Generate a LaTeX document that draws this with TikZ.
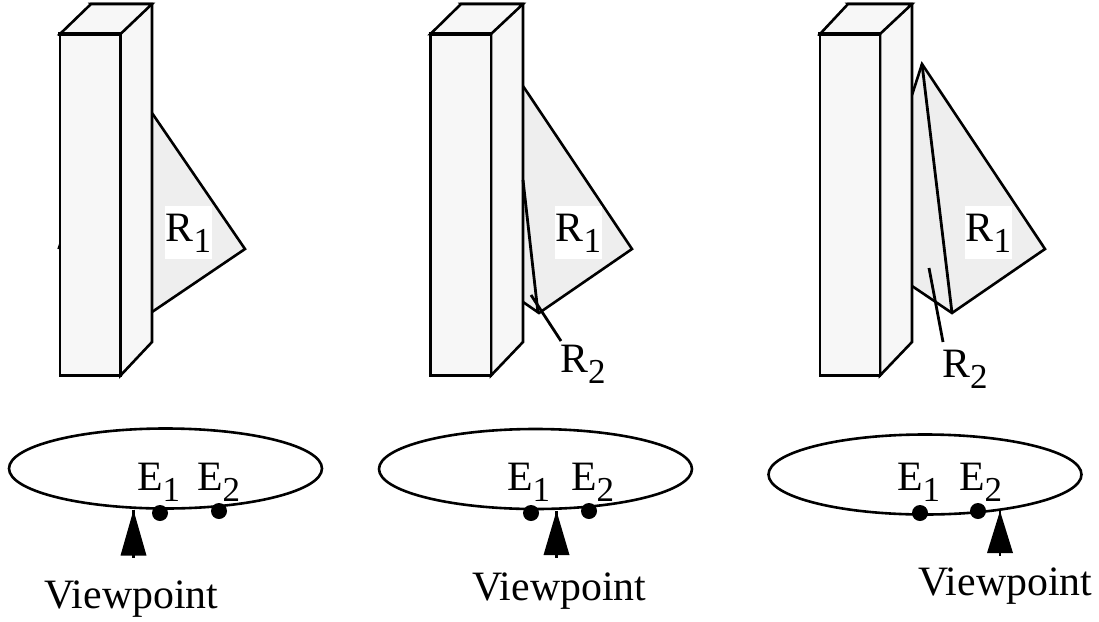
\documentclass[tikz,border=0pt]{standalone}
\usepackage{fontspec}
\usetikzlibrary{shapes.geometric}
\setmainfont{Liberation Serif}
\newcommand{\bigfont}{\fontsize{41.8}{42}\selectfont}
\newcommand{\subtxt}[1]{\raisebox{-11pt}{\fontsize{35}{35}\selectfont #1}}
\definecolor{boxgray}{HTML}{F7F7F7}
\definecolor{trigray}{HTML}{EEEEEE}
\tikzset{
  x=1pt,y=-1pt,
  edge/.style={draw=black,line width=2.6pt,line join=miter},
  slabface/.style={edge,fill=boxgray},
  tri/.style={edge,fill=trigray},
  topedge/.style={draw=black,line width=4.2pt},
  ray/.style={draw=black,line width=2.8pt},
  txt/.style={anchor=base west,inner sep=0pt,font=\bigfont},
  whitetxt/.style={anchor=base west,inner ysep=0pt,inner xsep=0.5pt,fill=white,font=\bigfont},
  eyepath/.style={ellipse,draw=black,line width=2.6pt,minimum width=313pt,minimum height=80pt,inner sep=0pt},
  spot/.style={circle,fill=black,inner sep=0pt,minimum size=16pt},
  tipshape/.style={fill=black},
}
% front left x, front right x, back left x, back right x
\newcommand{\slab}[4]{%
  \path[slabface] (#3,4) -- (#4,4) -- (#4,342) -- (#2,375.5) -- (#2,34) -- cycle;
  \path[slabface] (#1,34) -- (#3,4) -- (#4,4) -- (#2,34) -- cycle;
  \path[slabface] (#1,34) rectangle (#2,375.5);
  \draw[topedge] (#1-2,34) -- (#2,34);
}
\newcommand{\rlabel}[2]{\node[whitetxt] (#1) at (#2,241) {\rule[-18pt]{0pt}{53pt}R\subtxt{1}};}
% name, x, tip y, base y
\newcommand{\viewarrow}[4]{%
  \coordinate (#1tip) at (#2,#3);
  \coordinate (#1base) at (#2,#4+2.5);
  \path[tipshape] (#2,#3) -- (#2+13,#4) -- (#2-13,#4) -- cycle;
  \draw[line width=2.4pt,draw=black] (#1tip) -- (#1base);
}
\begin{document}
\begin{tikzpicture}
\useasboundingbox (0,0) rectangle (1099,621);
% panel 1
\draw[line width=1.4pt] (60,243) -- (58,249);
\path[tri] (152,113) -- (245,249) -- (152,312);
\slab{60}{120.5}{91}{152}
\rlabel{ra}{165}
% panel 2
\path[tri] (523,86) -- (632,249) -- (539,313) -- (523,302);
\slab{430.5}{491}{461}{523}
\rlabel{rb}{555}
\coordinate (b1) at (523,180); \coordinate (b2) at (538,313);
\coordinate (b3) at (531,295); \coordinate (b4) at (561,341);
\draw[ray] (b1) -- (b2);
\draw[ray] (b3) -- (b4);
\node[txt] (rbb) at (560,372) {R\subtxt{2}};
% panel 3
\path[tri] (912,95) -- (922,64) -- (1045,249) -- (952,313) -- (912,286);
\slab{820}{880}{848}{912}
\rlabel{rc}{965}
\coordinate (c1) at (922,64); \coordinate (c2) at (952,313);
\coordinate (c3) at (929,268); \coordinate (c4) at (943,342);
\draw[ray] (c1) -- (c2);
\draw[ray] (c3) -- (c4);
\node[txt] (rcc) at (942,377) {R\subtxt{2}};
% ellipses
\node[eyepath] (ea) at (165.5,468.5) {};
\node[eyepath] (eb) at (535.5,469) {};
\node[eyepath] (ec) at (925,474.5) {};
% dots
\node[spot] (da1) at (160,513) {};
\node[spot] (da2) at (219,511) {};
\node[spot] (db1) at (531,513) {};
\node[spot] (db2) at (589,511) {};
\node[spot] (dc1) at (920,513) {};
\node[spot] (dc2) at (978,511) {};
% E labels
\node[txt] (la1) at (137,490) {E\subtxt{1}};
\node[txt] (la2) at (197,490) {E\subtxt{2}};
\node[txt] (lb1) at (507,490) {E\subtxt{1}};
\node[txt] (lb2) at (571,490) {E\subtxt{2}};
\node[txt] (lc1) at (897,490) {E\subtxt{1}};
\node[txt] (lc2) at (959,490) {E\subtxt{2}};
% viewpoints
\viewarrow{va}{133.5}{510}{555.5}
\viewarrow{vb}{556.5}{511}{555}
\viewarrow{vc}{1000}{511}{553}
\node[txt] (ta) at (44,608) {Viewpoint};
\node[txt] (tb) at (472,600) {Viewpoint};
\node[txt] (tc) at (918,595) {Viewpoint};
\end{tikzpicture}
\end{document}
